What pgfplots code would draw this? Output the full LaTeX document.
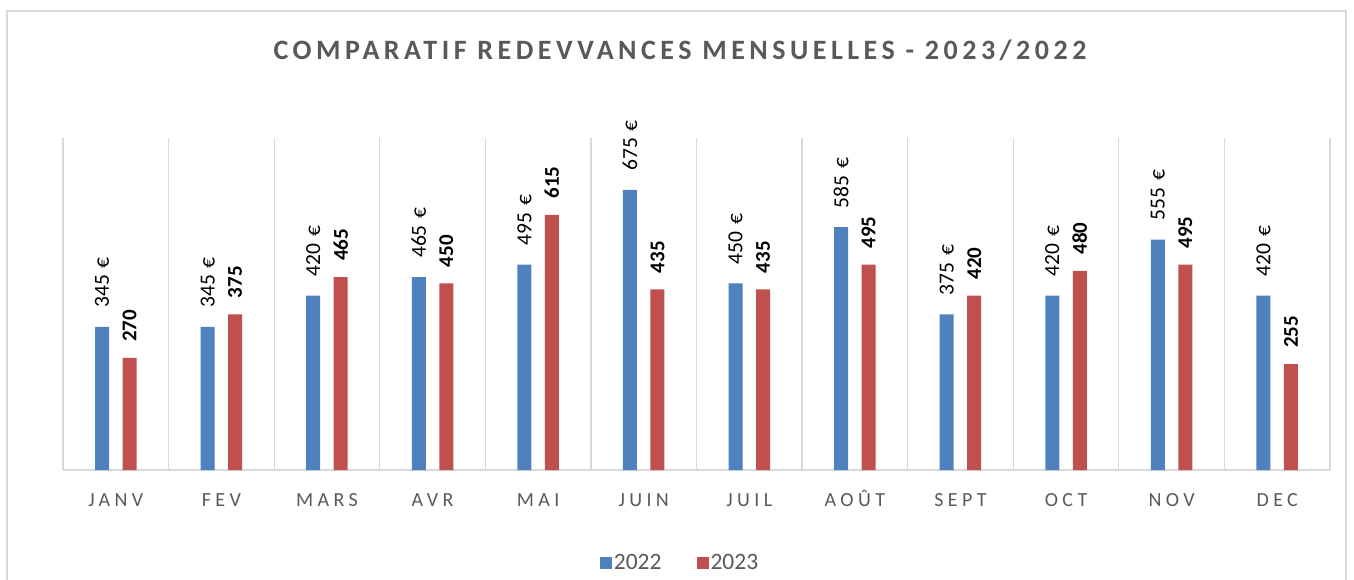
\documentclass[border=0pt]{standalone}
\usepackage{fontspec}
\setmainfont{Carlito}
\usepackage{pgfplots}
\pgfplotsset{compat=1.18}
\definecolor{cblue}{HTML}{4F81BD}
\definecolor{cred}{HTML}{C0504D}
\definecolor{txtgray}{HTML}{595959}
\definecolor{gridgray}{HTML}{D9D9D9}
\begin{document}
\begin{tikzpicture}
\path[use as bounding box] (0pt,0pt) rectangle (1354pt,579pt);
\fill[white] (0pt,0pt) rectangle (1354pt,579pt);
\draw[gridgray, line width=1.5pt] (7pt,-10pt) -- (7pt,568pt) -- (1346pt,568pt) -- (1346pt,-10pt);
\node[text=txtgray, font={\fontsize{28}{32}\selectfont\bfseries\addfontfeatures{LetterSpace=16}}] at (680pt,529pt) {COMPARATIF REDEVVANCES MENSUELLES - 2023/2022};
\begin{axis}[
  at={(63pt,109pt)}, anchor=south west,
  scale only axis, width=1267pt, height=332pt,
  xmin=-0.5, xmax=11.5, ymin=0, ymax=800,
  ybar=13.5pt, bar width=14pt,
  /pgf/number format/assume math mode=true,
  axis y line=none,
  axis x line*=bottom,
  x axis line style={draw=gridgray, line width=1.5pt},
  xtick={0,...,11},
  xticklabels={JANV,FEV,MARS,AVR,MAI,JUIN,JUIL,AOÛT,SEPT,OCT,NOV,DEC},
  major tick length=0pt, minor tick length=0pt,
  minor xtick={-0.5,0.5,...,11.5},
  xminorgrids=true,
  minor grid style={draw=gridgray, line width=1.2pt},
  xticklabel style={text=txtgray, font={\fontsize{20}{24}\selectfont\addfontfeatures{LetterSpace=22}}, text height=13pt, text depth=0pt, anchor=north, yshift=-20pt},
  legend style={at={(0.487,-0.28)}, anchor=center, legend columns=2, draw=none, fill=none,
    font={\fontsize{23.5}{26}\selectfont}, text=txtgray,
    /tikz/every even column/.append style={column sep=33pt}},
  legend image code/.code={\fill[#1] (0pt,-6pt) rectangle (12pt,6pt);},
  legend cell align=left,
]
\addplot[fill=cblue, draw=none,
  nodes near coords={\pgfmathprintnumber{\pgfplotspointmeta}\hspace{0.32em}€},
  every node near coord/.append style={rotate=90, anchor=west, text=black,
    font={\fontsize{21.5}{24}\selectfont}, inner xsep=19pt, inner ysep=0pt}]
  coordinates {(0,345) (1,345) (2,420) (3,465) (4,495) (5,675) (6,450) (7,585) (8,375) (9,420) (10,555) (11,420)};
\addplot[fill=cred, draw=none,
  nodes near coords={\pgfmathprintnumber{\pgfplotspointmeta}},
  every node near coord/.append style={rotate=90, anchor=west, text=black,
    font={\fontsize{21}{24}\selectfont\bfseries}, inner xsep=16pt, inner ysep=0pt}]
  coordinates {(0,270) (1,375) (2,465) (3,450) (4,615) (5,435) (6,435) (7,495) (8,420) (9,480) (10,495) (11,255)};
\legend{2022,2023}
\end{axis}
\end{tikzpicture}
\end{document}
